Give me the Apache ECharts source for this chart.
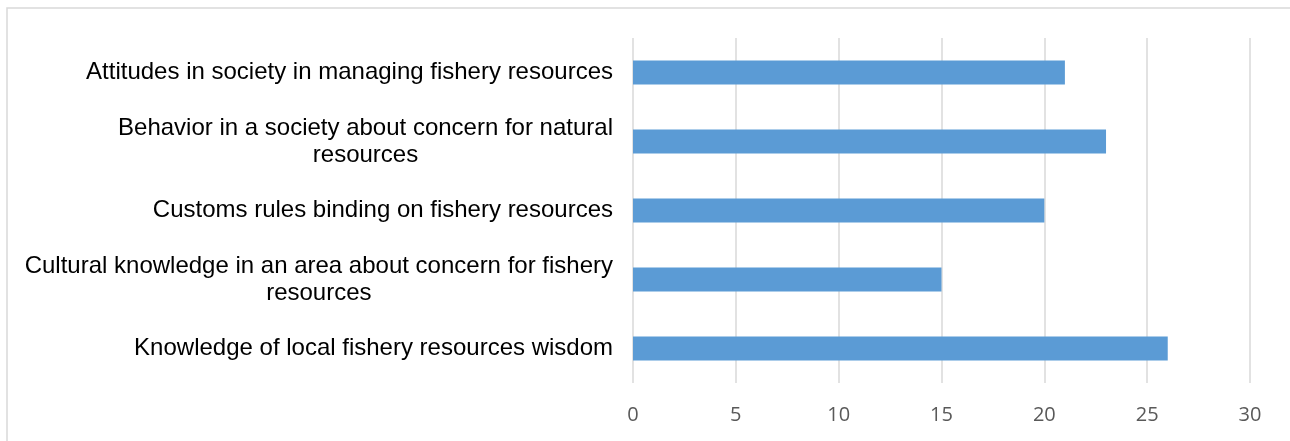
<!DOCTYPE html>
<html>
<head>
<meta charset="utf-8">
<script src="https://cdn.jsdelivr.net/npm/echarts@6/dist/echarts.min.js"></script>
<style>
  html, body { margin: 0; padding: 0; background: #ffffff; }
  #chart { width: 1290px; height: 441px; }
</style>
</head>
<body>
<div id="chart"></div>
<script>
// Categories, listed top to bottom
const categories = [
  'Attitudes in society in managing fishery resources',
  'Behavior in a society about concern for natural\nresources',
  'Customs rules binding on fishery resources',
  'Cultural knowledge in an area about concern for fishery\nresources',
  'Knowledge of local fishery resources wisdom'
];
// Count per category
const values = [21, 23, 20, 15, 26];
// Value axis ticks
const axisMin = 0;
const axisMax = 30;
const axisStep = 5;

const chart = echarts.init(document.getElementById('chart'), null, { renderer: 'canvas' });

chart.setOption({
  animation: false,
  backgroundColor: '#ffffff',
  graphic: [{
    type: 'rect',
    shape: { x: 7, y: 8, width: 1320, height: 500 },
    style: { fill: 'none', stroke: '#d9d9d9', lineWidth: 1.5 },
    silent: true
  }],
  grid: { left: 633, right: 40, top: 38, bottom: 58, containLabel: false },
  xAxis: {
    type: 'value',
    min: axisMin,
    max: axisMax,
    interval: axisStep,
    axisLine: { show: false },
    axisTick: { show: false },
    splitLine: { show: true, lineStyle: { color: '#d9d9d9', width: 1.5 } },
    axisLabel: {
      margin: 22,
      color: '#595959',
      fontFamily: '"Open Sans", "Liberation Sans", sans-serif',
      fontSize: 20
    }
  },
  yAxis: {
    type: 'category',
    inverse: true,
    data: categories,
    axisLine: { show: false },
    axisTick: { show: false },
    splitLine: { show: false },
    axisLabel: {
      margin: 20,
      align: 'right',
      formatter: v => '{c|' + v + '}',
      rich: {
        c: {
          align: 'center',
          color: '#000000',
          fontFamily: '"Liberation Sans", Arial, sans-serif',
          fontSize: 24,
          lineHeight: 27
        }
      }
    }
  },
  series: [{
    type: 'bar',
    data: values,
    barWidth: 24,
    itemStyle: { color: '#5b9bd5' },
    silent: true
  }]
});
</script>
</body>
</html>
